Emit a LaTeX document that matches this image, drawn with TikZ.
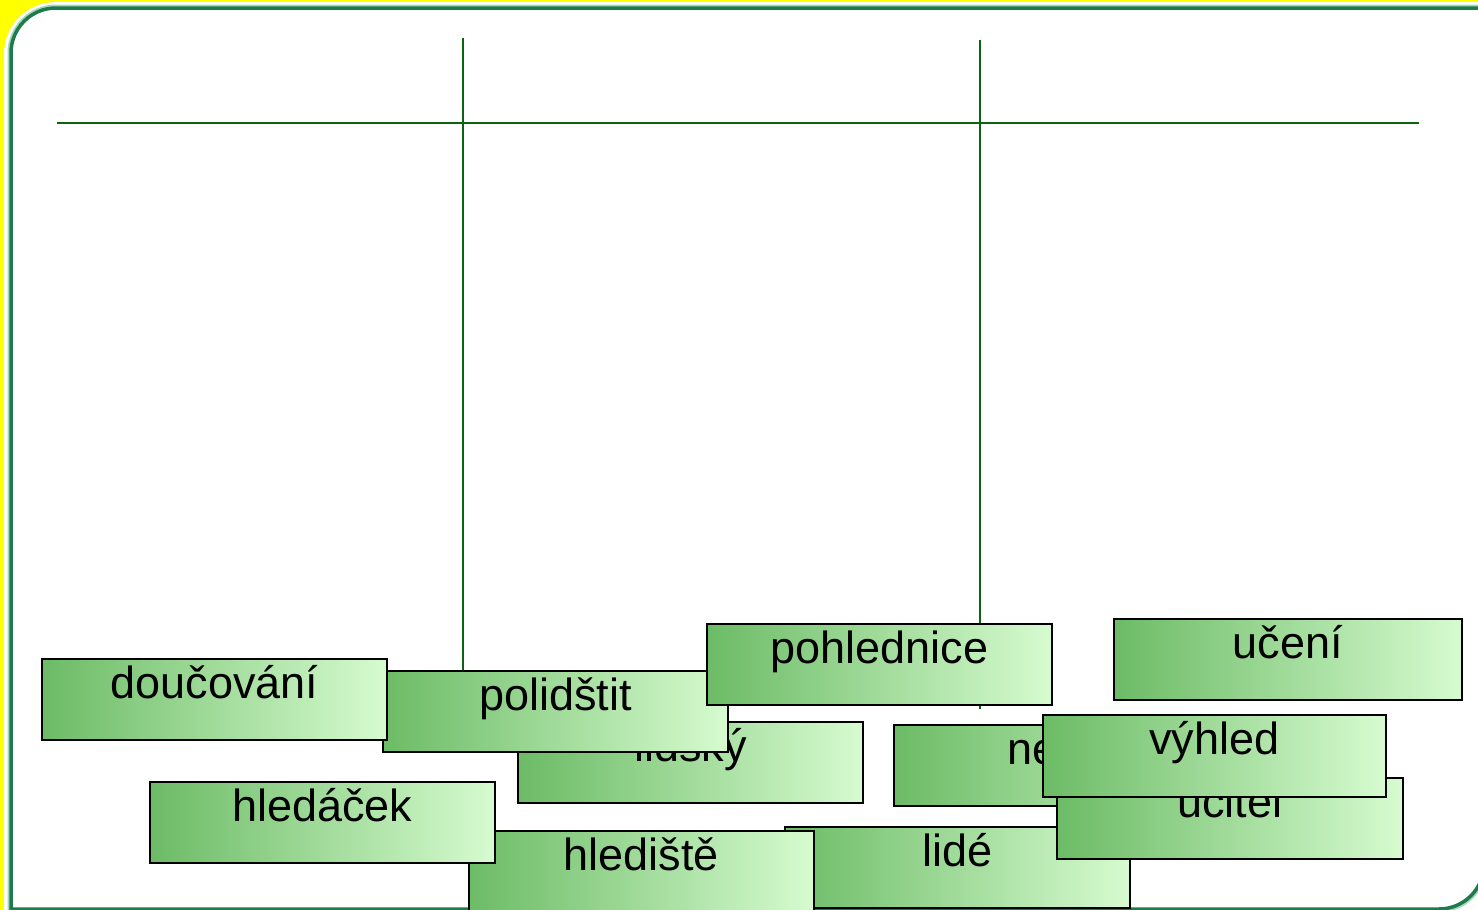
\documentclass[tikz,border=0pt]{standalone}
\usepackage{fontspec}
\setmainfont{Liberation Sans}
\definecolor{bgyellow}{HTML}{FFFF00}
\definecolor{framedark}{HTML}{1E7B4C}
\definecolor{framelight}{HTML}{A9D6B8}
\definecolor{linegreen}{HTML}{0B6414}
\definecolor{gleft}{HTML}{6CBB66}
\definecolor{gright}{HTML}{D6FBCF}
\tikzset{
  wordbox/.style={rectangle, draw=black, line width=1.6pt, left color=gleft, right color=gright,
    inner sep=0pt, minimum width=345pt, text height=40pt, text depth=41pt,
    anchor=north west, font=\fontsize{45}{54}\selectfont},
  gridline/.style={draw=linegreen, line width=2pt}
}
\begin{document}
\begin{tikzpicture}[x=1pt,y=-1pt]
\useasboundingbox (0,0) rectangle (1478,910);
\fill[bgyellow] (0,0) rectangle (1478,910);
% outer white shape (round diagonal corners)
\fill[white] (4,54) arc[start angle=180, end angle=270, radius=52] -- (1500,2) -- (1500,925) -- (4,925) -- cycle;
% frame with rounded top-left and bottom-right corners
\draw[framelight, line width=7pt] (11,53) arc[start angle=180, end angle=270, radius=45] -- (1484,8) -- (1484,864) arc[start angle=0, end angle=90, radius=45] -- (11,909) -- cycle;
\draw[framedark, line width=3.5pt, fill=white] (11,53) arc[start angle=180, end angle=270, radius=45] -- (1484,8) -- (1484,864) arc[start angle=0, end angle=90, radius=45] -- (11,909) -- cycle;
% grid lines
\coordinate (hl) at (57,123);
\coordinate (hr) at (1419,123);
\coordinate (v1t) at (463,38);
\coordinate (v1b) at (463,709);
\coordinate (v2t) at (980,40);
\coordinate (v2b) at (980,709);
\draw[gridline] (hl) -- (hr);
\draw[gridline] (v1t) -- (v1b);
\draw[gridline] (v2t) -- (v2b);
% word boxes (back to front)
\node[wordbox] (lidsky) at (517,721) {lidský};
\node[wordbox] (polidstit) at (382,670) {polidštit};
\node[wordbox] (doucovani) at (41,658) {doučování};
\node[wordbox] (pohlednice) at (706,623) {pohlednice};
\node[wordbox, minimum width=348pt] (uceni) at (1113,618) {učení};
\node[wordbox] (lide) at (784,826) {lidé};
\node[wordbox] (hlediste) at (468,830) {hlediště};
\node[wordbox] (hledacek) at (149,781) {hledáček};
\node[wordbox] (ne) at (893,724) {\makebox[345pt][l]{\hspace{114pt}ne}};
\node[wordbox, minimum width=346pt] (ucitel) at (1056,777) {učitel};
\node[wordbox, minimum width=343pt, text depth=42pt] (vyhled) at (1042,714) {výhled};
\end{tikzpicture}
\end{document}
